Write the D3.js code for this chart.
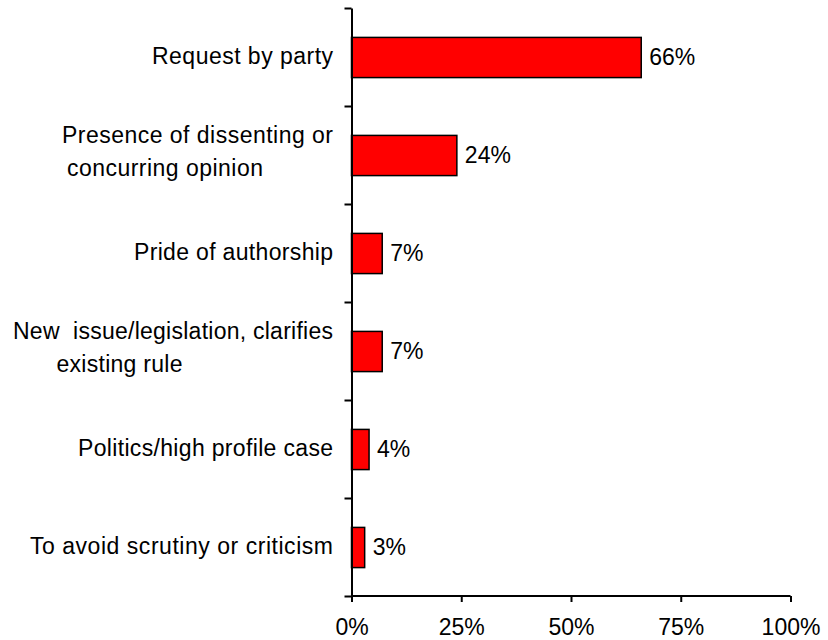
<!DOCTYPE html>
<html>
<head>
<meta charset="utf-8">
<script src="https://cdn.jsdelivr.net/npm/d3@7"></script>
<style>
  html, body { margin: 0; padding: 0; background: #fff; }
  svg { display: block; font-family: "Liberation Sans", Arial, sans-serif; }
  text { white-space: pre; }
</style>
</head>
<body>
<svg id="chart" width="828" height="640"></svg>
<script>
// Data
const categories = [
  ["Request by party"],
  ["Presence of dissenting or", "concurring opinion"],
  ["Pride of authorship"],
  ["New  issue/legislation, clarifies", "existing rule"],
  ["Politics/high profile case"],
  ["To avoid scrutiny or criticism"]
];
const values = [66, 24, 7, 7, 4, 3];
const xTicks = [0, 25, 50, 75, 100];

// Label rendering style (measured text widths / second-line indent, in px)
const labelWidths = [[181], [271, 196], [199], [320, 126], [255], [303]];
const secondLineIndent = [0, 5, 0, 43.5, 0, 0];

(function () {
const svg = d3.select("#chart");
const mLeft = 351.5, mRight = 790.5, mTop = 8, mBottom = 596;
const fontSize = 23;

const x = d3.scaleLinear().domain([0, 100]).range([mLeft, mRight]);
const y = d3.scaleBand().domain(d3.range(categories.length)).range([mTop, mBottom]).padding(0);

// Bars
const barFrac = 0.41;
svg.append("g").selectAll("rect")
  .data(values)
  .join("rect")
  .attr("x", x(0))
  .attr("y", (d, i) => y(i) + y.bandwidth() * (1 - barFrac) / 2 + 0.5)
  .attr("width", d => x(d) - x(0))
  .attr("height", y.bandwidth() * barFrac)
  .attr("fill", "#ff0000")
  .attr("stroke", "#000")
  .attr("stroke-width", 1.5);

// Value labels
svg.append("g").selectAll("text")
  .data(values)
  .join("text")
  .attr("x", d => x(d) + 8)
  .attr("y", (d, i) => y(i) + y.bandwidth() / 2 + 0.5)
  .attr("dy", "0.32em")
  .attr("font-size", fontSize)
  .attr("fill", "#000")
  .text(d => d + "%");

// X axis
const xAxis = d3.axisBottom(x)
  .tickValues(xTicks)
  .tickFormat(d => d + "%")
  .tickSize(6)
  .tickPadding(17);
const gx = svg.append("g").attr("transform", `translate(0,${mBottom})`).call(xAxis);
gx.select(".domain").attr("stroke", "#000").attr("stroke-width", 2).attr("d", `M${mLeft},0H${mRight}`);
gx.selectAll(".tick line").attr("stroke", "#000").attr("stroke-width", 2);
gx.selectAll(".tick text").attr("font-size", fontSize).attr("font-family", "Liberation Sans, Arial, sans-serif").attr("fill", "#000");

// Y axis (category boundaries as ticks)
const yLin = d3.scaleLinear().domain([0, categories.length]).range([mTop, mBottom]);
const yAxis = d3.axisLeft(yLin)
  .tickValues(d3.range(categories.length + 1))
  .tickFormat("")
  .tickSize(7)
  .tickSizeOuter(0);
const gy = svg.append("g").attr("transform", `translate(${mLeft},0)`).call(yAxis);
gy.select(".domain").attr("stroke", "#000").attr("stroke-width", 2);
gy.selectAll(".tick line").attr("stroke", "#000").attr("stroke-width", 2);

// Category labels
const labelX = 333;
const lineGap = 33;
const lg = svg.append("g").attr("font-size", fontSize).attr("fill", "#000");
categories.forEach((lines, i) => {
  const cy = y(i) + y.bandwidth() / 2;
  const w = labelWidths[i];
  if (lines.length === 1) {
    lg.append("text")
      .attr("x", labelX - w[0])
      .attr("y", cy)
      .attr("dy", "0.32em")
      .attr("textLength", w[0])
      .attr("lengthAdjust", "spacing")
      .text(lines[0]);
  } else {
    lg.append("text")
      .attr("x", labelX - w[0])
      .attr("y", cy - lineGap / 2 - 3.5)
      .attr("dy", "0.35em")
      .attr("textLength", w[0])
      .attr("lengthAdjust", "spacing")
      .text(lines[0]);
    lg.append("text")
      .attr("x", labelX - w[0] + secondLineIndent[i])
      .attr("y", cy + lineGap / 2 - 3.5)
      .attr("dy", "0.35em")
      .attr("textLength", w[1])
      .attr("lengthAdjust", "spacing")
      .text(lines[1]);
  }
});
})();
</script>
</body>
</html>
